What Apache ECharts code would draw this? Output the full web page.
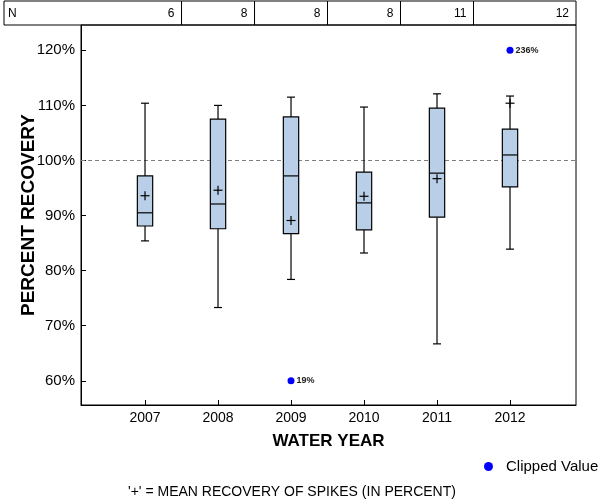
<!DOCTYPE html>
<html>
<head>
<meta charset="utf-8">
<script src="https://cdn.jsdelivr.net/npm/echarts@6/dist/echarts.min.js"></script>
<style>html,body{margin:0;padding:0;background:#fff}#chart{width:600px;height:500px}</style>
</head>
<body>
<div id="chart"></div>
<script>
// ---- data ----
const years = [2007, 2008, 2009, 2010, 2011, 2012];
const nCounts = [6, 8, 8, 8, 11, 12];
const whiskerLow = [85.4, 73.3, 78.4, 83.2, 66.7, 83.9];
const q1 = [88.1, 87.6, 86.7, 87.4, 89.7, 95.2];
const median = [90.5, 92.1, 97.2, 92.3, 97.7, 101.0];
const q3 = [97.2, 107.5, 107.9, 97.9, 109.5, 105.7];
const whiskerHigh = [110.4, 110.0, 111.5, 109.7, 112.1, 111.7];
const means = [93.6, 94.6, 89.1, 93.5, 96.7, 110.4];
const clippedYears = [2009, 2012];
const clippedPlotted = [60, 120];
const clippedActual = [19, 236];
const yTicks = [60, 70, 80, 90, 100, 110, 120];
const referenceLine = 100;

// ---- layout / style constants ----
const FONT = 'Liberation Sans, Arial, sans-serif';
const BOX_WIDTH = 0.21;   // in axis units (years)
const CAP_WIDTH = 0.11;
const TABLE_LEFT = 4;
const TABLE_ROW_H = 24;

const boxData = years.map((y, i) => [y, whiskerLow[i], q1[i], median[i], q3[i], whiskerHigh[i], means[i]]);
const tableData = years.map((y, i) => [y, nCounts[i]]);
const clippedData = clippedYears.map((y, i) => [y, clippedPlotted[i], clippedActual[i]]);

const chart = echarts.init(document.getElementById('chart'), null, {renderer: 'canvas'});

function renderBox(params, api) {
  const x = api.value(0);
  const cx = api.coord([x, 0])[0];
  const yy = k => api.coord([x, api.value(k)])[1];
  const yLow = yy(1), yQ1 = yy(2), yMed = yy(3), yQ3 = yy(4), yHigh = yy(5), yMean = yy(6);
  const hb = api.size([BOX_WIDTH, 0])[0] / 2;
  const hc = api.size([CAP_WIDTH, 0])[0] / 2;
  const ls = {stroke: '#000', lineWidth: 1.2};
  const ln = (x1, y1, x2, y2) => ({type: 'line', shape: {x1, y1, x2, y2}, style: ls});
  return {
    type: 'group',
    children: [
      ln(cx, yHigh, cx, yQ3),
      ln(cx, yQ1, cx, yLow),
      ln(cx - hc, yHigh, cx + hc, yHigh),
      ln(cx - hc, yLow, cx + hc, yLow),
      {type: 'rect', shape: {x: cx - hb, y: yQ3, width: 2 * hb, height: yQ1 - yQ3},
       style: {fill: '#b9cfe7', stroke: '#000', lineWidth: 1.2}},
      ln(cx - hb, yMed, cx + hb, yMed),
      ln(cx - 4.5, yMean, cx + 4.5, yMean),
      ln(cx, yMean - 4.5, cx, yMean + 4.5)
    ]
  };
}

function renderTable(params, api) {
  const i = params.dataIndex;
  const cs = params.coordSys;
  const x = api.value(0);
  const top = cs.y - TABLE_ROW_H;
  const left = i === 0 ? TABLE_LEFT : api.coord([x - 0.5, 0])[0];
  const right = i === years.length - 1 ? cs.x + cs.width : api.coord([x + 0.5, 0])[0];
  const children = [
    {type: 'rect', shape: {x: left, y: top, width: right - left, height: TABLE_ROW_H},
     style: {fill: 'none', stroke: '#000', lineWidth: 1}},
    {type: 'text', style: {text: String(api.value(1)), x: right - 7, y: top + TABLE_ROW_H / 2 + 1,
      align: 'right', verticalAlign: 'middle', fill: '#000', fontSize: 12, fontFamily: FONT}}
  ];
  if (i === 0) {
    children.push({type: 'text', style: {text: 'N', x: left + 4, y: top + TABLE_ROW_H / 2 + 1,
      align: 'left', verticalAlign: 'middle', fill: '#000', fontSize: 12, fontFamily: FONT}});
  }
  return {type: 'group', children};
}

chart.setOption({
  animation: false,
  backgroundColor: '#fff',
  textStyle: {fontFamily: FONT},
  grid: {left: 81, right: 24, top: 25, bottom: 95, show: true, borderColor: '#000', borderWidth: 1, backgroundColor: 'transparent'},
  xAxis: {
    type: 'value', min: 2006.123, max: 2012.904,
    splitLine: {show: false},
    axisLine: {show: true, onZero: false, lineStyle: {color: '#000', width: 1}},
    axisTick: {show: true, inside: true, length: 5, customValues: years, lineStyle: {color: '#000'}},
    axisLabel: {customValues: years, formatter: v => String(v), fontSize: 14, color: '#000', margin: 6},
    name: 'WATER YEAR', nameLocation: 'middle', nameGap: 28, nameMoveOverlap: false,
    nameTextStyle: {fontSize: 17, fontWeight: 'bold', color: '#000'}
  },
  yAxis: {
    type: 'value', min: 55.6, max: 124.6,
    splitLine: {show: false},
    axisLine: {show: true, onZero: false, lineStyle: {color: '#000', width: 1}},
    axisTick: {show: true, inside: true, length: 5, customValues: yTicks, lineStyle: {color: '#000'}},
    axisLabel: {customValues: yTicks, formatter: v => v + '%', fontSize: 15, color: '#000', margin: 6},
    name: 'PERCENT RECOVERY', nameLocation: 'middle', nameGap: 43, nameMoveOverlap: false,
    nameTextStyle: {fontSize: 19, fontWeight: 'bold', color: '#000'}
  },
  legend: {
    data: ['Clipped Value'], left: 484, top: 459, padding: 0,
    itemWidth: 25, itemHeight: 9, textStyle: {fontSize: 15, color: '#000'}
  },
  graphic: [{
    type: 'text', left: 128, top: 485,
    style: {text: "'+' = MEAN RECOVERY OF SPIKES (IN PERCENT)", fontSize: 14, fontFamily: FONT, fill: '#000'}
  }],
  series: [
    {
      type: 'custom', name: 'N table', data: tableData, renderItem: renderTable,
      clip: false, silent: true, z: 4, encode: {x: 0, y: 1}
    },
    {
      type: 'custom', name: 'Recovery', data: boxData, renderItem: renderBox,
      z: 3, silent: true, encode: {x: 0, y: [1, 2, 3, 4, 5, 6]}
    },
    {
      type: 'scatter', name: 'Clipped Value', data: clippedData, z: 4,
      symbol: 'circle', symbolSize: 7, itemStyle: {color: '#0000ff', opacity: 1},
      label: {show: true, position: 'right', distance: 2, formatter: p => p.value[2] + '%',
        fontSize: 9, fontWeight: 'bold', color: '#222'},
      markLine: {
        silent: true, symbol: ['none', 'none'], z: 1, label: {show: false},
        lineStyle: {color: '#808080', type: [4, 3], width: 1},
        data: [{yAxis: referenceLine}]
      }
    }
  ]
});
</script>
</body>
</html>
